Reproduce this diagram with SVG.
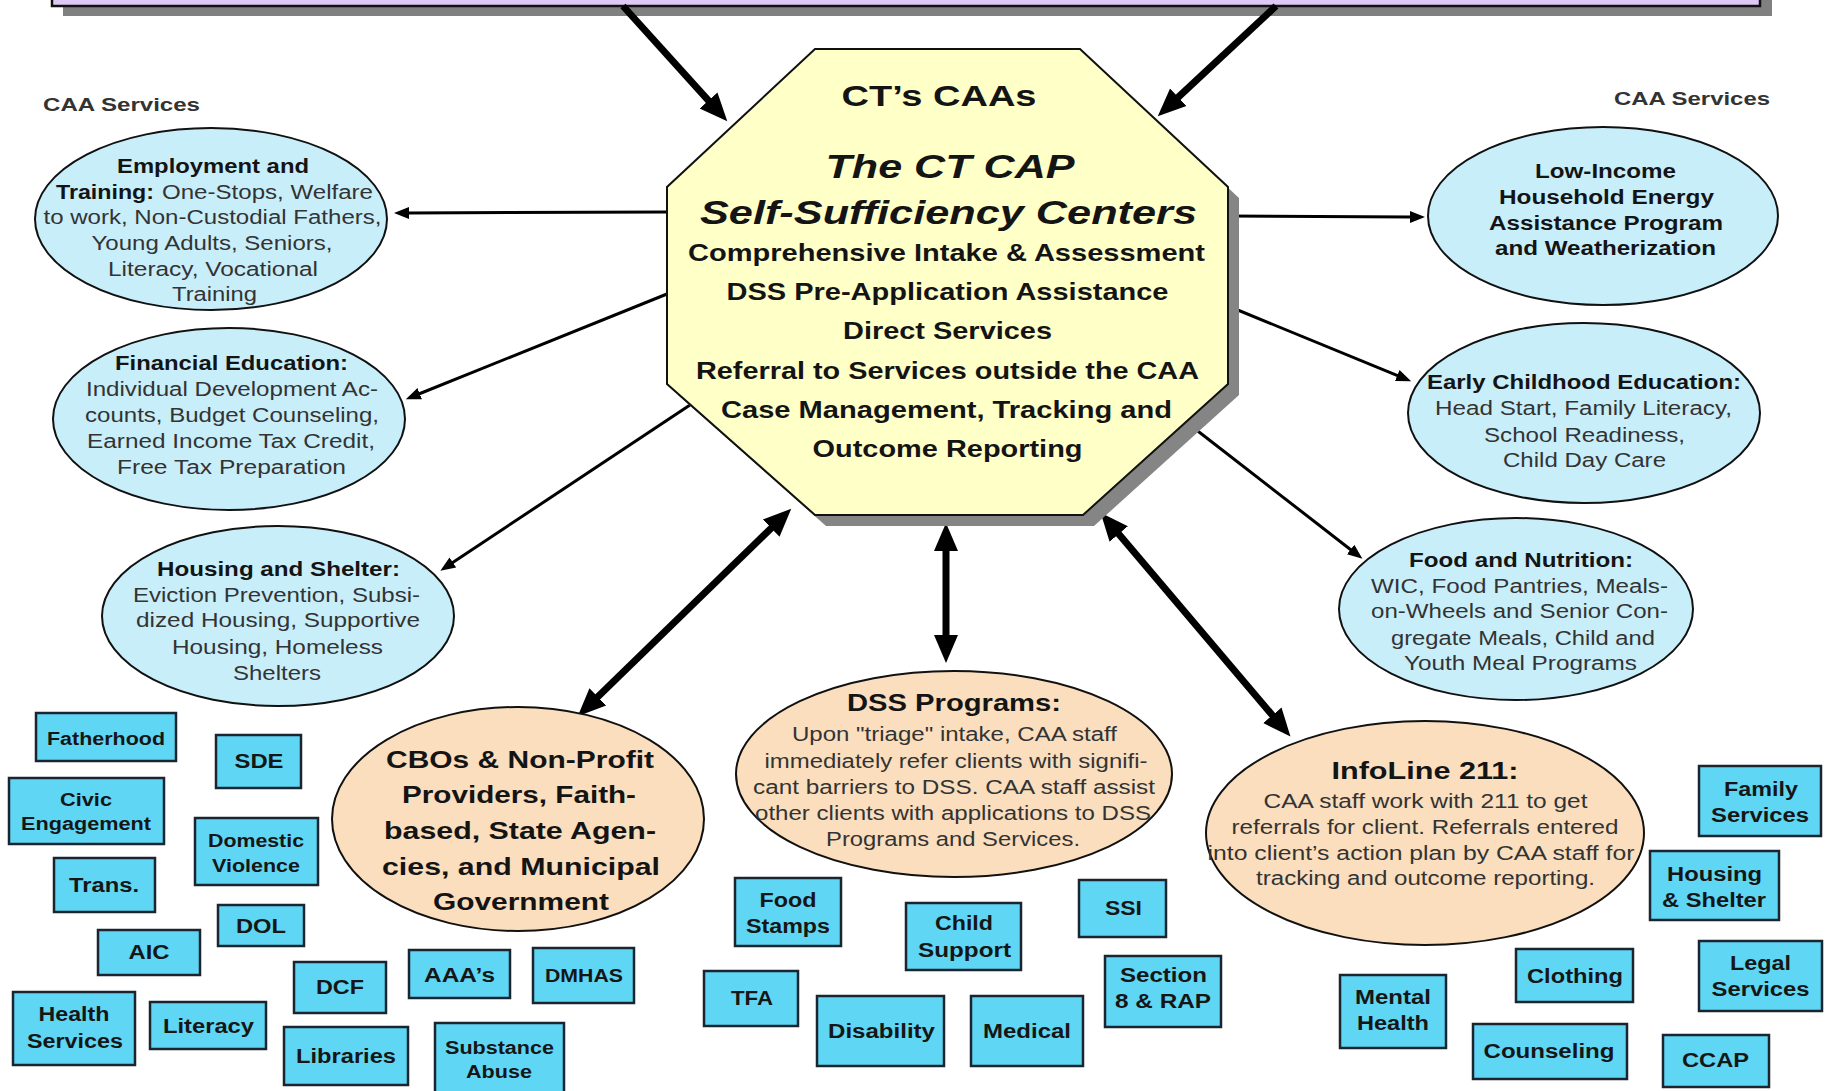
<svg xmlns="http://www.w3.org/2000/svg" width="1825" height="1091" viewBox="0 0 1825 1091">
  <defs>
    <style>
      text { font-family: "Liberation Sans", Arial, Helvetica, sans-serif; text-anchor: middle; }
      .hd { font-weight: bold; fill: #141414; }
      .bd { fill: #333333; }
      .svc { fill: #c8eefa; stroke: #111111; stroke-width: 2; }
      .agy { fill: #fadebe; stroke: #111111; stroke-width: 2; }
      .box { fill: #5fd6f4; stroke: #1a2530; stroke-width: 2.5; }
      .bl { font-weight: bold; fill: #161616; }
      .thin { stroke: #000000; stroke-width: 3; fill: none; marker-end: url(#headThin); }
      .thick { stroke: #000000; stroke-width: 7; fill: none; marker-end: url(#headThick); }
      .both { marker-start: url(#headThick); }
      .lbl { font-weight: bold; fill: #333333; font-size: 19px; }
    </style>
    <marker id="headThick" markerUnits="userSpaceOnUse" markerWidth="30" markerHeight="28" viewBox="0 -14 30 28" refX="1" refY="0" orient="auto-start-reverse">
      <path d="M0,-12 L28,0 L0,12 z" fill="#000000"/>
    </marker>
    <marker id="headThin" markerUnits="userSpaceOnUse" markerWidth="18" markerHeight="16" viewBox="0 -8 18 16" refX="1" refY="0" orient="auto">
      <path d="M0,-6 L15,0 L0,6 z" fill="#000000"/>
    </marker>
  </defs>

  <rect x="0" y="0" width="1825" height="1091" fill="#ffffff"/>

  <!-- banner strip along the top edge -->
  <g id="banner">
    <rect x="63" y="-9" width="1709" height="25" fill="#808080"/>
    <rect x="52" y="-20" width="1708" height="26" fill="#dec8f5" stroke="#111111" stroke-width="2.5"/>
  </g>

  <!-- connectors -->
  <g id="connectors">
    <path class="thick" d="M623,6 L709.2,101.3"/>
    <path class="thick" d="M1276,6 L1177.5,97.9"/>
    <path class="thin" d="M667,212 L408,213"/>
    <path class="thin" d="M667,294 L418.8,394"/>
    <path class="thin" d="M690,405 L452,563"/>
    <path class="thin" d="M1228,216 L1411,217"/>
    <path class="thin" d="M1228,306 L1398.2,375.9"/>
    <path class="thin" d="M1190,425 L1351.4,550.2"/>
    <path class="thick both" d="M771.9,527.5 L597.1,697.5"/>
    <path class="thick both" d="M946,550 L946,636"/>
    <path class="thick both" d="M1118.1,533.3 L1273,716"/>
  </g>

  <!-- central hub -->
  <g id="hub">
    <polygon points="826,60 1091,60 1239,198 1239,395 1094,526 826,526 678,395 678,198" fill="#858585"/>
    <polygon points="815,49 1080,49 1228,187 1228,384 1083,515 815,515 667,384 667,187" fill="#ffffc8" stroke="#111111" stroke-width="2"/>
    <text class="hd" x="939" y="106" font-size="30" textLength="195" lengthAdjust="spacingAndGlyphs">CT’s CAAs</text>
    <text class="hd" x="950" y="178" font-size="34" font-style="italic" textLength="249" lengthAdjust="spacingAndGlyphs">The CT CAP</text>
    <text class="hd" x="948.5" y="224" font-size="34" font-style="italic" textLength="497" lengthAdjust="spacingAndGlyphs">Self-Sufficiency Centers</text>
    <text class="hd" x="946.5" y="261" font-size="24" textLength="517" lengthAdjust="spacingAndGlyphs">Comprehensive Intake &amp; Assessment</text>
    <text class="hd" x="947.5" y="300" font-size="24" textLength="442" lengthAdjust="spacingAndGlyphs">DSS Pre-Application Assistance</text>
    <text class="hd" x="947.5" y="339" font-size="24" textLength="209" lengthAdjust="spacingAndGlyphs">Direct Services</text>
    <text class="hd" x="947.5" y="379" font-size="24" textLength="503" lengthAdjust="spacingAndGlyphs">Referral to Services outside the CAA</text>
    <text class="hd" x="946.5" y="418" font-size="24" textLength="451" lengthAdjust="spacingAndGlyphs">Case Management, Tracking and</text>
    <text class="hd" x="947.5" y="457" font-size="24" textLength="270" lengthAdjust="spacingAndGlyphs">Outcome Reporting</text>
  </g>

  <!-- side headings -->
  <text class="lbl" x="121.5" y="111" textLength="157" lengthAdjust="spacingAndGlyphs">CAA Services</text>
  <text class="lbl" x="1692" y="105" textLength="156" lengthAdjust="spacingAndGlyphs">CAA Services</text>

  <!-- CAA service ellipses -->
  <g id="employment">
    <ellipse class="svc" cx="211" cy="219" rx="176" ry="91"/>
    <text class="hd" x="213" y="173" font-size="20" textLength="192" lengthAdjust="spacingAndGlyphs">Employment and</text>
    <text class="hd" x="56" y="199" font-size="20" style="text-anchor:start" textLength="98" lengthAdjust="spacingAndGlyphs">Training:</text>
    <text class="bd" x="162" y="199" font-size="20" style="text-anchor:start" textLength="211" lengthAdjust="spacingAndGlyphs">One-Stops, Welfare</text>
    <text class="bd" x="212.5" y="224" font-size="20" textLength="338" lengthAdjust="spacingAndGlyphs">to work, Non-Custodial Fathers,</text>
    <text class="bd" x="212" y="250" font-size="20" textLength="241" lengthAdjust="spacingAndGlyphs">Young Adults, Seniors,</text>
    <text class="bd" x="213" y="276" font-size="20" textLength="210" lengthAdjust="spacingAndGlyphs">Literacy, Vocational</text>
    <text class="bd" x="214.5" y="301" font-size="20" textLength="85" lengthAdjust="spacingAndGlyphs">Training</text>
  </g>

  <g id="financial">
    <ellipse class="svc" cx="229" cy="419" rx="176" ry="91"/>
    <text class="hd" x="231.5" y="370" font-size="20" textLength="233" lengthAdjust="spacingAndGlyphs">Financial Education:</text>
    <text class="bd" x="232" y="396" font-size="20" textLength="292" lengthAdjust="spacingAndGlyphs">Individual Development Ac-</text>
    <text class="bd" x="232" y="422" font-size="20" textLength="294" lengthAdjust="spacingAndGlyphs">counts, Budget Counseling,</text>
    <text class="bd" x="231" y="448" font-size="20" textLength="288" lengthAdjust="spacingAndGlyphs">Earned Income Tax Credit,</text>
    <text class="bd" x="231.5" y="474" font-size="20" textLength="229" lengthAdjust="spacingAndGlyphs">Free Tax Preparation</text>
  </g>

  <g id="housing">
    <ellipse class="svc" cx="278" cy="616" rx="176" ry="90"/>
    <text class="hd" x="278.5" y="576" font-size="20" textLength="243" lengthAdjust="spacingAndGlyphs">Housing and Shelter:</text>
    <text class="bd" x="276.5" y="602" font-size="20" textLength="287" lengthAdjust="spacingAndGlyphs">Eviction Prevention, Subsi-</text>
    <text class="bd" x="278" y="627" font-size="20" textLength="284" lengthAdjust="spacingAndGlyphs">dized Housing, Supportive</text>
    <text class="bd" x="277.5" y="654" font-size="20" textLength="211" lengthAdjust="spacingAndGlyphs">Housing, Homeless</text>
    <text class="bd" x="277" y="680" font-size="20" textLength="88" lengthAdjust="spacingAndGlyphs">Shelters</text>
  </g>

  <g id="liheap">
    <ellipse class="svc" cx="1603" cy="216" rx="175" ry="89"/>
    <text class="hd" x="1605.5" y="178" font-size="20" textLength="141" lengthAdjust="spacingAndGlyphs">Low-Income</text>
    <text class="hd" x="1606.5" y="204" font-size="20" textLength="215" lengthAdjust="spacingAndGlyphs">Household Energy</text>
    <text class="hd" x="1606" y="230" font-size="20" textLength="234" lengthAdjust="spacingAndGlyphs">Assistance Program</text>
    <text class="hd" x="1605.5" y="255" font-size="20" textLength="221" lengthAdjust="spacingAndGlyphs">and Weatherization</text>
  </g>

  <g id="early-childhood">
    <ellipse class="svc" cx="1584" cy="413" rx="176" ry="90"/>
    <text class="hd" x="1584" y="389" font-size="20" textLength="314" lengthAdjust="spacingAndGlyphs">Early Childhood Education:</text>
    <text class="bd" x="1583.5" y="415" font-size="20" textLength="297" lengthAdjust="spacingAndGlyphs">Head Start, Family Literacy,</text>
    <text class="bd" x="1584.5" y="442" font-size="20" textLength="201" lengthAdjust="spacingAndGlyphs">School Readiness,</text>
    <text class="bd" x="1584.5" y="467" font-size="20" textLength="163" lengthAdjust="spacingAndGlyphs">Child Day Care</text>
  </g>

  <g id="food-nutrition">
    <ellipse class="svc" cx="1516" cy="609" rx="177" ry="91"/>
    <text class="hd" x="1521" y="567" font-size="20" textLength="224" lengthAdjust="spacingAndGlyphs">Food and Nutrition:</text>
    <text class="bd" x="1519.5" y="593" font-size="20" textLength="297" lengthAdjust="spacingAndGlyphs">WIC, Food Pantries, Meals-</text>
    <text class="bd" x="1519.5" y="618" font-size="20" textLength="297" lengthAdjust="spacingAndGlyphs">on-Wheels and Senior Con-</text>
    <text class="bd" x="1523" y="645" font-size="20" textLength="264" lengthAdjust="spacingAndGlyphs">gregate Meals, Child and</text>
    <text class="bd" x="1520.5" y="670" font-size="20" textLength="233" lengthAdjust="spacingAndGlyphs">Youth Meal Programs</text>
  </g>

  <!-- partner ellipses -->
  <g id="cbos">
    <ellipse class="agy" cx="518" cy="819" rx="186" ry="112"/>
    <text class="hd" x="520" y="768" font-size="24" textLength="268" lengthAdjust="spacingAndGlyphs">CBOs &amp; Non-Profit</text>
    <text class="hd" x="519" y="803" font-size="24" textLength="234" lengthAdjust="spacingAndGlyphs">Providers, Faith-</text>
    <text class="hd" x="520" y="839" font-size="24" textLength="272" lengthAdjust="spacingAndGlyphs">based, State Agen-</text>
    <text class="hd" x="521" y="875" font-size="24" textLength="278" lengthAdjust="spacingAndGlyphs">cies, and Municipal</text>
    <text class="hd" x="521" y="910" font-size="24" textLength="176" lengthAdjust="spacingAndGlyphs">Government</text>
  </g>

  <g id="dss">
    <ellipse class="agy" cx="954" cy="774" rx="218" ry="103"/>
    <text class="hd" x="954" y="711" font-size="23" textLength="214" lengthAdjust="spacingAndGlyphs">DSS Programs:</text>
    <text class="bd" x="954.5" y="741" font-size="20" textLength="325" lengthAdjust="spacingAndGlyphs">Upon "triage" intake, CAA staff</text>
    <text class="bd" x="956" y="768" font-size="20" textLength="383" lengthAdjust="spacingAndGlyphs">immediately refer clients with signifi-</text>
    <text class="bd" x="954" y="794" font-size="20" textLength="402" lengthAdjust="spacingAndGlyphs">cant barriers to DSS. CAA staff assist</text>
    <text class="bd" x="953" y="820" font-size="20" textLength="396" lengthAdjust="spacingAndGlyphs">other clients with applications to DSS</text>
    <text class="bd" x="953" y="846" font-size="20" textLength="254" lengthAdjust="spacingAndGlyphs">Programs and Services.</text>
  </g>

  <g id="infoline">
    <ellipse class="agy" cx="1425" cy="833" rx="219" ry="112"/>
    <text class="hd" x="1425" y="779" font-size="24" textLength="187" lengthAdjust="spacingAndGlyphs">InfoLine 211:</text>
    <text class="bd" x="1425.5" y="808" font-size="20" textLength="324" lengthAdjust="spacingAndGlyphs">CAA staff work with 211 to get</text>
    <text class="bd" x="1425" y="834" font-size="20" textLength="387" lengthAdjust="spacingAndGlyphs">referrals for client. Referrals entered</text>
    <text class="bd" x="1421" y="860" font-size="20" textLength="427" lengthAdjust="spacingAndGlyphs">into client’s action plan by CAA staff for</text>
    <text class="bd" x="1425.5" y="885" font-size="20" textLength="339" lengthAdjust="spacingAndGlyphs">tracking and outcome reporting.</text>
  </g>

  <!-- community partner boxes -->
  <g id="fatherhood"><rect class="box" x="36" y="713" width="140" height="48"/><text class="bl" x="106" y="745" font-size="18" textLength="118" lengthAdjust="spacingAndGlyphs">Fatherhood</text></g>
  <g id="sde"><rect class="box" x="216" y="735" width="85" height="53"/><text class="bl" x="259" y="768" font-size="20" textLength="49" lengthAdjust="spacingAndGlyphs">SDE</text></g>
  <g id="civic"><rect class="box" x="9" y="778" width="155" height="66"/><text class="bl" x="86" y="806" font-size="18" textLength="52" lengthAdjust="spacingAndGlyphs">Civic</text><text class="bl" x="86" y="830" font-size="18" textLength="130" lengthAdjust="spacingAndGlyphs">Engagement</text></g>
  <g id="domestic"><rect class="box" x="195" y="818" width="123" height="67"/><text class="bl" x="256" y="847" font-size="18" textLength="96" lengthAdjust="spacingAndGlyphs">Domestic</text><text class="bl" x="256" y="872" font-size="18" textLength="88" lengthAdjust="spacingAndGlyphs">Violence</text></g>
  <g id="trans"><rect class="box" x="54" y="858" width="101" height="54"/><text class="bl" x="104" y="892" font-size="20" textLength="70" lengthAdjust="spacingAndGlyphs">Trans.</text></g>
  <g id="dol"><rect class="box" x="218" y="905" width="86" height="41"/><text class="bl" x="261" y="933" font-size="20" textLength="50" lengthAdjust="spacingAndGlyphs">DOL</text></g>
  <g id="aic"><rect class="box" x="98" y="930" width="102" height="45"/><text class="bl" x="149" y="959" font-size="20" textLength="41" lengthAdjust="spacingAndGlyphs">AIC</text></g>
  <g id="dcf"><rect class="box" x="294" y="962" width="92" height="51"/><text class="bl" x="340" y="994" font-size="20" textLength="48" lengthAdjust="spacingAndGlyphs">DCF</text></g>
  <g id="aaa"><rect class="box" x="409" y="950" width="101" height="48"/><text class="bl" x="459.5" y="982" font-size="20" textLength="71" lengthAdjust="spacingAndGlyphs">AAA’s</text></g>
  <g id="dmhas"><rect class="box" x="533" y="948" width="101" height="55"/><text class="bl" x="584" y="982" font-size="18" textLength="78" lengthAdjust="spacingAndGlyphs">DMHAS</text></g>
  <g id="health"><rect class="box" x="13" y="992" width="122" height="73"/><text class="bl" x="74" y="1021" font-size="20" textLength="71" lengthAdjust="spacingAndGlyphs">Health</text><text class="bl" x="75" y="1048" font-size="20" textLength="96" lengthAdjust="spacingAndGlyphs">Services</text></g>
  <g id="literacy"><rect class="box" x="150" y="1002" width="116" height="47"/><text class="bl" x="208.5" y="1033" font-size="20" textLength="91" lengthAdjust="spacingAndGlyphs">Literacy</text></g>
  <g id="libraries"><rect class="box" x="284" y="1027" width="124" height="58"/><text class="bl" x="346" y="1063" font-size="20" textLength="100" lengthAdjust="spacingAndGlyphs">Libraries</text></g>
  <g id="substance"><rect class="box" x="435" y="1023" width="129" height="71"/><text class="bl" x="499.5" y="1054" font-size="18" textLength="109" lengthAdjust="spacingAndGlyphs">Substance</text><text class="bl" x="499" y="1078" font-size="18" textLength="66" lengthAdjust="spacingAndGlyphs">Abuse</text></g>

  <g id="food-stamps"><rect class="box" x="735" y="878" width="106" height="68"/><text class="bl" x="788" y="907" font-size="20" textLength="57" lengthAdjust="spacingAndGlyphs">Food</text><text class="bl" x="788" y="933" font-size="20" textLength="84" lengthAdjust="spacingAndGlyphs">Stamps</text></g>
  <g id="child-support"><rect class="box" x="906" y="903" width="115" height="67"/><text class="bl" x="964" y="930" font-size="20" textLength="58" lengthAdjust="spacingAndGlyphs">Child</text><text class="bl" x="964.5" y="957" font-size="20" textLength="93" lengthAdjust="spacingAndGlyphs">Support</text></g>
  <g id="ssi"><rect class="box" x="1079" y="880" width="87" height="57"/><text class="bl" x="1123.5" y="915" font-size="20" textLength="37" lengthAdjust="spacingAndGlyphs">SSI</text></g>
  <g id="tfa"><rect class="box" x="704" y="971" width="94" height="55"/><text class="bl" x="752" y="1005" font-size="20" textLength="42" lengthAdjust="spacingAndGlyphs">TFA</text></g>
  <g id="disability"><rect class="box" x="817" y="996" width="127" height="70"/><text class="bl" x="881.5" y="1038" font-size="20" textLength="107" lengthAdjust="spacingAndGlyphs">Disability</text></g>
  <g id="medical"><rect class="box" x="971" y="996" width="112" height="70"/><text class="bl" x="1027" y="1038" font-size="20" textLength="88" lengthAdjust="spacingAndGlyphs">Medical</text></g>
  <g id="section8"><rect class="box" x="1105" y="956" width="116" height="71"/><text class="bl" x="1163.5" y="982" font-size="20" textLength="87" lengthAdjust="spacingAndGlyphs">Section</text><text class="bl" x="1163" y="1008" font-size="20" textLength="96" lengthAdjust="spacingAndGlyphs">8 &amp; RAP</text></g>

  <g id="family"><rect class="box" x="1699" y="766" width="122" height="70"/><text class="bl" x="1761" y="796" font-size="20" textLength="74" lengthAdjust="spacingAndGlyphs">Family</text><text class="bl" x="1760" y="822" font-size="20" textLength="98" lengthAdjust="spacingAndGlyphs">Services</text></g>
  <g id="housing-shelter"><rect class="box" x="1650" y="851" width="129" height="69"/><text class="bl" x="1714.5" y="881" font-size="20" textLength="95" lengthAdjust="spacingAndGlyphs">Housing</text><text class="bl" x="1714" y="907" font-size="20" textLength="104" lengthAdjust="spacingAndGlyphs">&amp; Shelter</text></g>
  <g id="legal"><rect class="box" x="1699" y="941" width="123" height="70"/><text class="bl" x="1760.5" y="970" font-size="20" textLength="61" lengthAdjust="spacingAndGlyphs">Legal</text><text class="bl" x="1760.5" y="996" font-size="20" textLength="98" lengthAdjust="spacingAndGlyphs">Services</text></g>
  <g id="mental"><rect class="box" x="1340" y="975" width="106" height="73"/><text class="bl" x="1393" y="1004" font-size="20" textLength="76" lengthAdjust="spacingAndGlyphs">Mental</text><text class="bl" x="1393" y="1030" font-size="20" textLength="72" lengthAdjust="spacingAndGlyphs">Health</text></g>
  <g id="clothing"><rect class="box" x="1516" y="949" width="117" height="53"/><text class="bl" x="1575" y="983" font-size="20" textLength="96" lengthAdjust="spacingAndGlyphs">Clothing</text></g>
  <g id="counseling"><rect class="box" x="1473" y="1024" width="154" height="55"/><text class="bl" x="1549" y="1058" font-size="20" textLength="131" lengthAdjust="spacingAndGlyphs">Counseling</text></g>
  <g id="ccap"><rect class="box" x="1663" y="1035" width="106" height="52"/><text class="bl" x="1715.5" y="1067" font-size="20" textLength="67" lengthAdjust="spacingAndGlyphs">CCAP</text></g>
</svg>
